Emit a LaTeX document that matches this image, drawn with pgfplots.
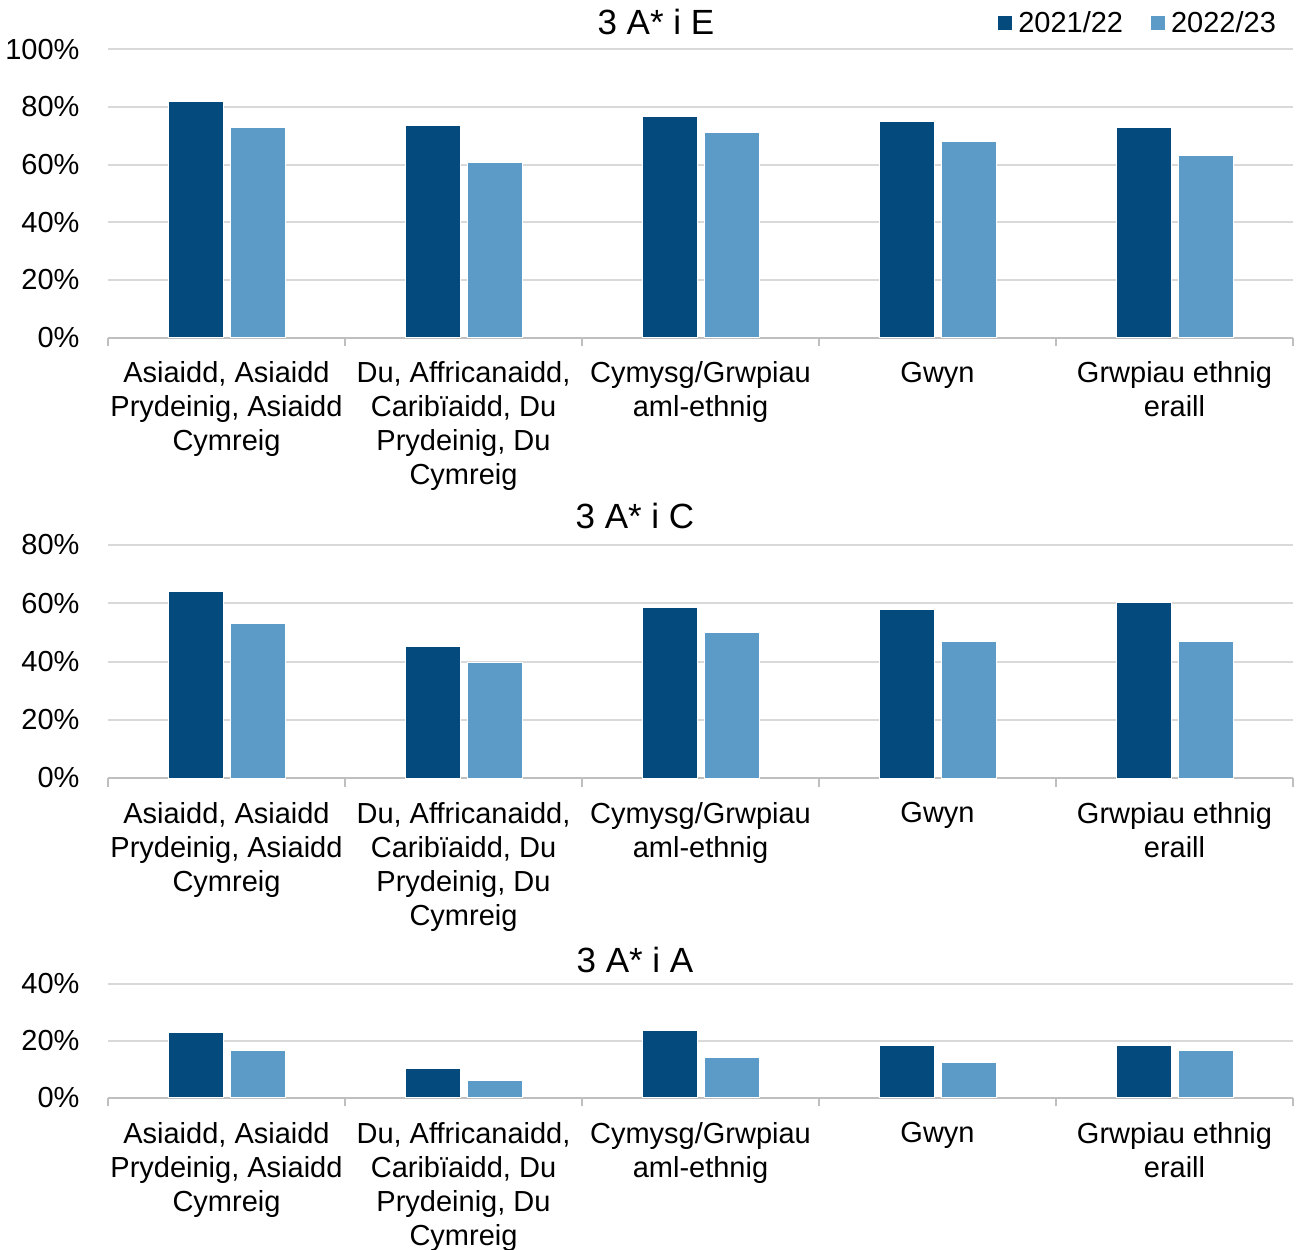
\documentclass[border=0pt]{standalone}
\usepackage{pgfplots}
\pgfplotsset{compat=1.18}
\usepackage{fontspec}
\setmainfont{Liberation Sans}
\definecolor{darkb}{HTML}{044A7C}
\definecolor{lightb}{HTML}{5C9AC7}
\newcommand\lbl{\fontsize{11.6pt}{13.6pt}\selectfont}
\newcommand\ttl{\fontsize{14pt}{16.8pt}\selectfont}
\pgfplotsset{
  panel/.style={
    scale only axis,
    width=474pt,
    ybar=2.8pt, bar width=22pt,
    xmin=-0.5, xmax=4.5, ymin=0,
    axis x line*=bottom,
    axis y line*=left,
    y axis line style={draw=none},
    x axis line style={draw=black!25, line width=0.8pt, -},
    xtick={0,...,4},
    xticklabels={{Asiaidd, Asiaidd\\Prydeinig, Asiaidd\\Cymreig},
                 {Du, Affricanaidd,\\Caribïaidd, Du\\Prydeinig, Du\\Cymreig},
                 {Cymysg/Grwpiau\\aml-ethnig},
                 {Gwyn},
                 {Grwpiau ethnig\\eraill}},
    xtick style={draw=none},
    extra x ticks={-0.5,0.5,1.5,2.5,3.5,4.5},
    extra x tick labels={},
    extra x tick style={tick align=outside, major tick length=3.4pt, xtick style={draw=black!25, line width=0.8pt}},
    xticklabel style={font=\lbl, align=center, anchor=north, inner sep=0pt, yshift=-5.3pt},
    ytick style={draw=none},
    yticklabel={\pgfmathprintnumber{\tick}\%},
    /pgf/number format/assume math mode=true,
    yticklabel style={font=\lbl, inner sep=0pt, anchor=east, xshift=-11.2pt},
    ymajorgrids=true,
    grid style={draw=black!15, line width=0.8pt},
    title style={font=\ttl, anchor=center, inner sep=0pt},
  },
  sq/.style={legend image code/.code={\fill[##1, draw=none] (0pt,-2.8pt) rectangle (5.6pt,2.8pt);}},
}
\begin{document}
\begin{tikzpicture}
\path[use as bounding box] (0pt,0pt) rectangle (519.2pt,-500pt);
% Panel 1: 3 A* i E
\begin{axis}[panel, at={(43.2pt,-135pt)}, anchor=south west, height=115.3pt,
  ymax=100, ytick={0,20,...,100},
  title={3 A* i E}, title style={at={(axis description cs:0.4624,1)}, yshift=4.9pt},
  legend columns=2,
  legend style={at={(axis description cs:0.986,1)}, anchor=east, yshift=10.3pt,
    draw=none, fill=none, inner sep=0pt, font=\lbl, nodes={inner sep=0pt},
    /tikz/every even column/.append style={column sep=11.2pt},
    /tikz/every odd column/.append style={column sep=2.4pt}},
]
\addplot[fill=darkb, draw=white, line width=0.4pt, sq] coordinates {(0,81.7) (1,73.6) (2,76.7) (3,75.1) (4,72.9)};
\addplot[fill=lightb, draw=white, line width=0.4pt, sq] coordinates {(0,72.7) (1,60.7) (2,71.0) (3,67.9) (4,63.0)};
\legend{2021/22,2022/23}
\end{axis}
% Panel 2: 3 A* i C
\begin{axis}[panel, at={(43.2pt,-311.2pt)}, anchor=south west, height=93.2pt,
  ymax=80, ytick={0,20,...,80},
  title={3 A* i C}, title style={at={(axis description cs:0.4447,1)}, yshift=5.6pt},
]
\addplot[fill=darkb, draw=white, line width=0.4pt] coordinates {(0,64.1) (1,45.1) (2,58.7) (3,57.9) (4,60.1)};
\addplot[fill=lightb, draw=white, line width=0.4pt] coordinates {(0,53.0) (1,39.8) (2,49.9) (3,46.8) (4,46.8)};
\end{axis}
% Panel 3: 3 A* i A
\begin{axis}[panel, at={(43.2pt,-439.1pt)}, anchor=south west, height=45.5pt,
  ymax=40, ytick={0,20,40},
  title={3 A* i A}, title style={at={(axis description cs:0.4447,1)}, yshift=3.6pt},
]
\addplot[fill=darkb, draw=white, line width=0.4pt] coordinates {(0,23.0) (1,10.2) (2,23.8) (3,18.4) (4,18.4)};
\addplot[fill=lightb, draw=white, line width=0.4pt] coordinates {(0,16.7) (1,6.2) (2,14.3) (3,12.5) (4,16.7)};
\end{axis}
\end{tikzpicture}
\end{document}
